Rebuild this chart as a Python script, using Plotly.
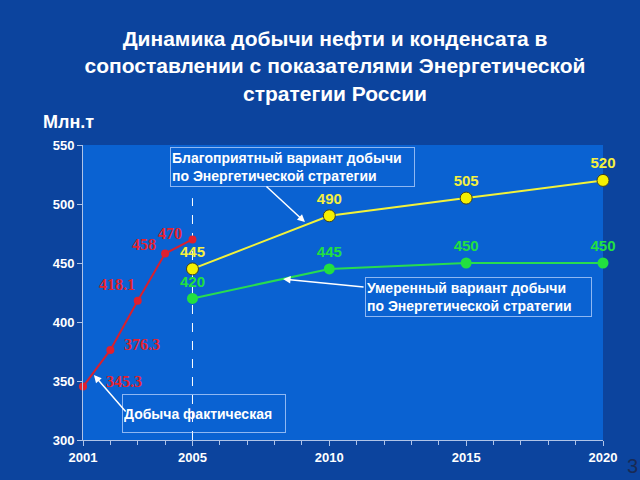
import plotly.graph_objects as go

years_actual = [2001, 2002, 2003, 2004, 2005]
actual = [345.3, 376.3, 418.1, 458, 470]
actual_labels = ["345.3", "376.3", "418.1", "458", "470"]
years_plan = [2005, 2010, 2015, 2020]
favorable = [445, 490, 505, 520]
moderate = [420, 445, 450, 450]
x_ticks = [2001, 2005, 2010, 2015, 2020]
y_ticks = [300, 350, 400, 450, 500, 550]

# label offsets (pixels) for the actual-production labels
actual_label_dx = [41, 32, -21, -21, -22]
actual_label_dy = [5, 5, 16, 9, 6]

title_text = "<b>Динамика добычи нефти и конденсата в<br>сопоставлении с показателями Энергетической<br>стратегии России</b>"

fig = go.Figure()

fig.add_trace(go.Scatter(
    x=years_actual, y=actual, mode="lines+markers",
    line=dict(color="#d8202e", width=2),
    marker=dict(color="#e0202e", size=8),
    hoverinfo="skip", showlegend=False, cliponaxis=False,
))
fig.add_trace(go.Scatter(
    x=years_plan, y=favorable, mode="lines+markers+text",
    line=dict(color="#f2f23a", width=2),
    marker=dict(color="#f5f000", size=12, line=dict(color="#404020", width=1)),
    text=[str(v) for v in favorable], textposition="top center",
    textfont=dict(color="#f5f040", size=15, family="Liberation Sans"),
    texttemplate="<b>%{text}</b>",
    hoverinfo="skip", showlegend=False, cliponaxis=False,
))
fig.add_trace(go.Scatter(
    x=years_plan, y=moderate, mode="lines+markers+text",
    line=dict(color="#28dc50", width=2),
    marker=dict(color="#22e040", size=11),
    text=[str(v) for v in moderate], textposition="top center",
    textfont=dict(color="#22e040", size=15, family="Liberation Sans"),
    texttemplate="<b>%{text}</b>",
    hoverinfo="skip", showlegend=False, cliponaxis=False,
))

for xv, yv, lab, dx, dy in zip(years_actual, actual, actual_labels, actual_label_dx, actual_label_dy):
    fig.add_annotation(x=xv, y=yv, xref="x", yref="y", text=f"<b>{lab}</b>", showarrow=False,
                       xshift=dx, yshift=dy,
                       font=dict(color="#e4222e", size=16, family="Liberation Serif"))

fig.add_shape(type="line", x0=2005, x1=2005, y0=300, y1=505,
              line=dict(color="white", width=1, dash="dash"), layer="below")

box_font = dict(color="white", size=14, family="Liberation Sans")
box_border = "rgba(200,220,255,0.7)"

fig.add_annotation(x=2008.65, y=531.4, xref="x", yref="y",
                   text="<b>Благоприятный вариант добычи<br>по Энергетической стратегии</b>",
                   showarrow=False, align="left", valign="middle", width=241, height=36,
                   font=box_font, bordercolor=box_border, borderwidth=1, borderpad=1)
fig.add_annotation(x=2015.45, y=421.2, xref="x", yref="y",
                   text="<b>Умеренный вариант добычи<br>по Энергетической стратегии</b>",
                   showarrow=False, align="left", valign="middle", width=223, height=36,
                   font=box_font, bordercolor=box_border, borderwidth=1, borderpad=1)
fig.add_annotation(x=2005.42, y=322.5, xref="x", yref="y",
                   text="<b>Добыча фактическая</b>",
                   showarrow=False, align="left", valign="middle", width=160, height=35,
                   font=box_font, bordercolor=box_border, borderwidth=1, borderpad=1)

arrow_style = dict(showarrow=True, arrowhead=2, arrowsize=1, arrowwidth=1.5,
                   arrowcolor="white", text="", xref="x", yref="y", axref="pixel", ayref="pixel")
fig.add_annotation(x=2009.11, y=484.7, ax=-40, ay=-37, **arrow_style)
fig.add_annotation(x=2008.31, y=436.4, ax=82, ay=8, **arrow_style)
fig.add_annotation(x=2001.40, y=355, ax=33, ay=38, **arrow_style)

# positions in plot-area fractions (plot area: x 83..603, y 145..440 px)
fig.add_annotation(x=(68 - 83) / 520, y=(440 - 122) / 295, xref="paper", yref="paper",
                   text="<b>Млн.т</b>", showarrow=False, xanchor="center", yanchor="middle",
                   font=dict(color="white", size=18, family="Liberation Sans"))
fig.add_annotation(x=(632 - 83) / 520, y=(440 - 466) / 295, xref="paper", yref="paper",
                   text="3", showarrow=False, xanchor="center", yanchor="middle",
                   font=dict(color="#182a55", size=20, family="Liberation Sans"))

fig.update_layout(
    width=640, height=480,
    margin=dict(l=83, r=37, t=145, b=40),
    paper_bgcolor="#0c449e",
    plot_bgcolor="#0a62d2",
    title=dict(text=title_text, x=335 / 640, xanchor="center", y=1 - 46 / 480, yanchor="middle",
               font=dict(color="white", size=21, family="Liberation Sans")),
    xaxis=dict(range=[2001, 2020], tickvals=x_ticks, ticktext=[f"<b>{v}</b>" for v in x_ticks],
               showgrid=False, zeroline=False, showline=True, linecolor="#b0c4e8", linewidth=1,
               ticks="outside", ticklen=5, tickcolor="#b0c4e8",
               minor=dict(dtick=1, tick0=2001, ticks="outside", ticklen=4, tickcolor="#b0c4e8"),
               tickfont=dict(color="white", size=13, family="Liberation Sans")),
    yaxis=dict(range=[300, 550], tickvals=y_ticks, ticktext=[f"<b>{v}</b>" for v in y_ticks],
               showgrid=False, zeroline=False, showline=True, linecolor="#b0c4e8", linewidth=1,
               ticks="outside", ticklen=5, tickcolor="#b0c4e8",
               tickfont=dict(color="white", size=13, family="Liberation Sans")),
)

fig.write_html("out.html", config={"displayModeBar": False},
               post_script="document.body.style.margin='0';document.body.style.background='#0c449e';")
